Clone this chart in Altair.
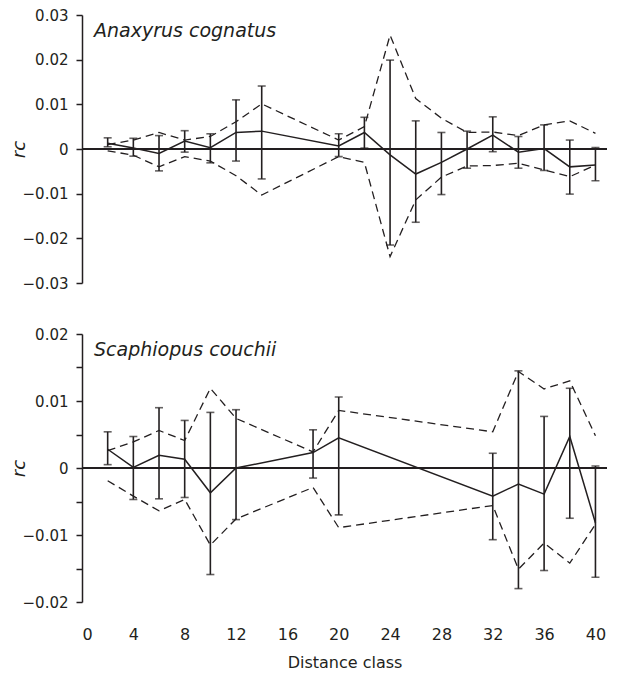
import altair as alt
import pandas as pd

# ---------------- data: Anaxyrus cognatus ----------------
top_species = "Anaxyrus cognatus"
top_d     = [2, 4, 6, 8, 10, 12, 14, 20, 22, 24, 26, 28, 30, 32, 34, 36, 38, 40]
top_mean  = [0.0013, 0.0002, -0.0010, 0.0018, 0.0003, 0.0037, 0.0040, 0.0007, 0.0037, -0.0013,
             -0.0056, -0.0030, 0.0000, 0.0031, -0.0007, 0.0001, -0.0040, -0.0036]
top_lo    = [0.0005, -0.0016, -0.0049, -0.0007, -0.0031, -0.0027, -0.0067, -0.0017, 0.0002, -0.0215,
             -0.0164, -0.0102, -0.0043, -0.0006, -0.0043, -0.0048, -0.0101, -0.0071]
top_hi    = [0.0025, 0.0024, 0.0030, 0.0041, 0.0034, 0.0110, 0.0141, 0.0034, 0.0071, 0.0199,
             0.0063, 0.0037, 0.0040, 0.0072, 0.0028, 0.0054, 0.0020, 0.0003]
top_upper = [0.0010, 0.0020, 0.0037, 0.0020, 0.0028, 0.0061, 0.0101, 0.0020, 0.0050, 0.0255,
             0.0113, 0.0069, 0.0037, 0.0038, 0.0030, 0.0054, 0.0063, 0.0035]
top_lower = [-0.0004, -0.0014, -0.0040, -0.0017, -0.0027, -0.0060, -0.0103, -0.0017, -0.0030, -0.0241,
             -0.0114, -0.0063, -0.0038, -0.0037, -0.0032, -0.0047, -0.0062, -0.0036]
top_yticks = [-0.03, -0.02, -0.01, 0, 0.01, 0.02, 0.03]

# ---------------- data: Scaphiopus couchii ----------------
bot_species = "Scaphiopus couchii"
bot_d     = [2, 4, 6, 8, 10, 12, 18, 20, 32, 34, 36, 38, 40]
bot_mean  = [0.0028, 0.0001, 0.0019, 0.0013, -0.0037, 0.0000, 0.0023, 0.0045, -0.0042, -0.0024,
             -0.0039, 0.0047, -0.0082]
bot_lo    = [0.0005, -0.0047, -0.0046, -0.0044, -0.0159, -0.0077, -0.0015, -0.0070, -0.0107, -0.0180,
             -0.0153, -0.0075, -0.0163]
bot_hi    = [0.0054, 0.0047, 0.0090, 0.0071, 0.0083, 0.0087, 0.0057, 0.0106, 0.0022, 0.0145,
             0.0077, 0.0119, 0.0003]
bot_upper = [0.0026, 0.0039, 0.0056, 0.0041, 0.0119, 0.0074, 0.0024, 0.0086, 0.0054, 0.0144,
             0.0118, 0.0130, 0.0048]
bot_lower = [-0.0019, -0.0042, -0.0064, -0.0047, -0.0115, -0.0076, -0.0029, -0.0089, -0.0056, -0.0151,
             -0.0112, -0.0142, -0.0084]
bot_yticks = [-0.02, -0.015, -0.01, -0.005, 0, 0.005, 0.01, 0.015, 0.02]

x_ticks = [0, 4, 8, 12, 16, 20, 24, 28, 32, 36, 40]

INK = "#231f20"
FONT = "DejaVu Sans"
W, H = 525, 268

label_expr = ("abs(datum.value) < 1e-9 ? '0' : "
              "(abs(round(datum.value*200)) % 2 == 1 ? '' : format(datum.value, '.2f'))")


def panel(species, d, mean, lo, hi, upper, lower, ydom, yticks, show_x):
    df = pd.DataFrame({"d": d, "mean": mean, "lo": lo, "hi": hi,
                       "upper": upper, "lower": lower})
    if show_x:
        xaxis = alt.Axis(values=x_ticks, domain=False, ticks=False, grid=False,
                         labelPadding=24, title="Distance class", titlePadding=12,
                         labelFontSize=16, titleFontSize=16, labelFont=FONT,
                         titleFont=FONT, titleFontWeight="normal",
                         labelColor=INK, titleColor=INK)
    else:
        xaxis = None
    xs = alt.Scale(domain=[0, 40.9], nice=False, zero=False)
    X = alt.X("d:Q", scale=xs, axis=xaxis)
    ys = alt.Scale(domain=ydom, nice=False, zero=False)
    yaxis = alt.Axis(values=yticks, labelExpr=label_expr, grid=False, title="rc",
                     titleFontStyle="italic", titleFontWeight="normal",
                     titleFontSize=18, titleFont=FONT, labelFont=FONT,
                     labelFontSize=15, labelColor=INK, titleColor=INK,
                     domainColor=INK, domainWidth=1.5, tickColor=INK,
                     tickWidth=1.5, tickSize=6, labelPadding=8, titlePadding=-6)
    Y = lambda f: alt.Y(f"{f}:Q", scale=ys, axis=yaxis)

    base = alt.Chart(df)
    zero = base.mark_rule(color=INK, strokeWidth=1.4).encode(y=alt.datum(0, scale=ys, axis=yaxis))
    up_line = base.mark_line(color=INK, strokeWidth=1.3, strokeDash=[8, 5]).encode(x=X, y=Y("upper"))
    low_line = base.mark_line(color=INK, strokeWidth=1.3, strokeDash=[8, 5]).encode(x=X, y=Y("lower"))
    bars = base.mark_rule(color=INK, strokeWidth=1.6).encode(x=X, y=Y("lo"), y2="hi:Q")
    cap_lo = base.mark_tick(color=INK, orient="horizontal", size=8, thickness=1.6).encode(x=X, y=Y("lo"))
    cap_hi = base.mark_tick(color=INK, orient="horizontal", size=8, thickness=1.6).encode(x=X, y=Y("hi"))
    mean_line = base.mark_line(color=INK, strokeWidth=1.5).encode(x=X, y=Y("mean"))
    label = alt.Chart(pd.DataFrame({"label": [species]})).mark_text(
        align="left", baseline="alphabetic", fontStyle="italic", fontSize=19,
        font=FONT, color=INK).encode(text="label:N", x=alt.value(12), y=alt.value(22))

    return alt.layer(zero, up_line, low_line, bars, cap_lo, cap_hi, mean_line, label).properties(
        width=W, height=H)


top = panel(top_species, top_d, top_mean, top_lo, top_hi, top_upper, top_lower,
            [-0.03, 0.03], top_yticks, False)
bot = panel(bot_species, bot_d, bot_mean, bot_lo, bot_hi, bot_upper, bot_lower,
            [-0.02, 0.02], bot_yticks, True)

chart = alt.vconcat(top, bot, spacing=36).properties(
    padding={"left": 2, "top": 0, "right": 0, "bottom": 0}
).configure(background="white").configure_view(stroke=None)

chart.save("out.html", embed_options={"renderer": "svg", "actions": False})
